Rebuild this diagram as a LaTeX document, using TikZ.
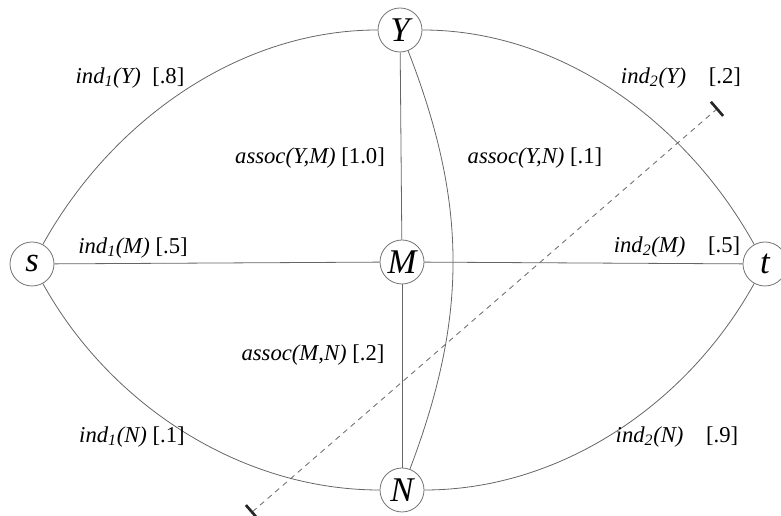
\documentclass[tikz,border=0pt]{standalone}
\usepackage{fontspec}
\setmainfont{Liberation Serif}
\usetikzlibrary{arrows.meta, positioning}

\begin{document}
\begin{tikzpicture}[
  x=0.75pt, y=0.75pt,
  vert/.style={circle, draw=black!55, line width=0.6pt, fill=white, minimum size=33pt, inner sep=0pt, font=\fontsize{26}{28}\selectfont\itshape},
  lbl/.style={font=\fontsize{17}{19}\selectfont, inner sep=1pt},
  edge/.style={draw=black!60, line width=0.6pt},
  cut/.style={draw=black!60, line width=0.6pt, dash pattern=on 4pt off 3.5pt, {Bar[width=14pt, line width=2pt, color=black!85]}-{Bar[width=14pt, line width=2pt, color=black!85]}},
]
\useasboundingbox (0,0) rectangle (781,516);

\node[vert] (s) at (32,252)  {s};
\node[vert] (M) at (402,254) {M};
\node[vert] (t) at (765,252) {t};
\node[vert] (Y) at (400,486) {Y};
\node[vert] (N) at (402,26)  {N};

\draw[edge] (s) to[out=61, in=180, looseness=0.9]   (Y);
\draw[edge] (Y) to[out=0, in=119, looseness=0.9]    (t);
\draw[edge] (s) to[out=-61, in=180, looseness=0.9]  (N);
\draw[edge] (N) to[out=0, in=-119, looseness=0.9]   (t);
\draw[edge] (s) -- (M);
\draw[edge] (M) -- (t);
\draw[edge] (Y) -- (M);
\draw[edge] (M) -- (N);
\draw[edge] (Y) to[bend left=21] (N);

\node[lbl] (l1Y) at (130,438) {\textit{ind\textsubscript{1}(Y)}\ \ [.8]};
\node[lbl] (l2Y) at (681,438) {\textit{ind\textsubscript{2}(Y)}\quad[.2]};
\node[lbl] (aYM) at (310,358) {\textit{assoc(Y,M)} [1.0]};
\node[lbl] (aYN) at (535,358) {\textit{assoc(Y,N)} [.1]};
\node[lbl] (l1M) at (133,268) {\textit{ind\textsubscript{1}(M)} [.5]};
\node[lbl] (l2M) at (677,269) {\textit{ind\textsubscript{2}(M)}\quad[.5]};
\node[lbl] (aMN) at (313,161) {\textit{assoc(M,N)} [.2]};
\node[lbl] (l1N) at (132,79)  {\textit{ind\textsubscript{1}(N)} [.1]};
\node[lbl] (l2N) at (677,79)  {\textit{ind\textsubscript{2}(N)}\quad[.9]};

\coordinate (cutA) at (251,3);
\coordinate (cutB) at (718,408);
\draw[cut] (cutA) -- (cutB);
\end{tikzpicture}
\end{document}
